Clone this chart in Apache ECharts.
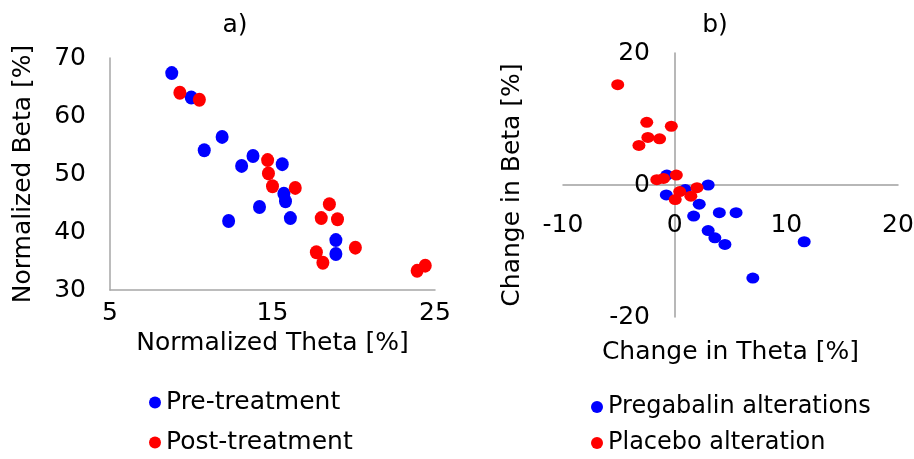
<!DOCTYPE html>
<html>
<head>
<meta charset="utf-8">
<script src="https://cdn.jsdelivr.net/npm/echarts@6/dist/echarts.min.js"></script>
<style>
  html, body { margin: 0; padding: 0; background: #fff; }
  #chart { width: 914px; height: 459px; }
</style>
</head>
<body>
<div id="chart"></div>
<script>
// a) normalized values [theta, beta]
var preTreatment = [
  [8.8, 67.4], [10.0, 63.2], [11.9, 56.4], [10.8, 54.1], [13.8, 53.1],
  [13.1, 51.4], [15.6, 51.7], [15.7, 46.6], [15.8, 45.3], [14.2, 44.3],
  [16.1, 42.4], [12.3, 41.9], [18.9, 38.6], [18.9, 36.2]
];
var postTreatment = [
  [9.3, 64.0], [10.5, 62.8], [14.7, 52.4], [14.75, 50.1], [15.0, 47.9],
  [16.4, 47.6], [18.5, 44.8], [18.0, 42.4], [19.0, 42.2], [20.1, 37.3],
  [17.7, 36.5], [18.1, 34.7], [23.9, 33.3], [24.4, 34.2]
];
// b) changes [theta, beta]
var pregabalinAlt = [
  [-0.7, 1.5], [-0.75, -1.5], [0.95, -0.7], [3.0, 0.0], [2.2, -2.9],
  [1.7, -4.7], [4.0, -4.2], [5.5, -4.2], [3.0, -6.9], [3.6, -8.0],
  [4.5, -9.0], [11.6, -8.6], [7.0, -14.1]
];
var placeboAlt = [
  [-5.1, 15.2], [-2.5, 9.5], [-0.3, 8.9], [-2.4, 7.2], [-1.35, 7.0],
  [-3.2, 6.0], [-1.6, 0.8], [-1.0, 1.0], [0.15, 1.5], [0.45, -1.0],
  [2.0, -0.4], [1.45, -1.7], [0.05, -2.2]
];

var FONT = 'DejaVu Sans';
var chartDom = document.getElementById('chart');
var myChart = echarts.init(chartDom);
var option;

function legendItem(name, left, top, size) {
  return {
    data: [name], left: left, top: top, padding: 0,
    itemWidth: 12, itemHeight: 12, icon: 'circle',
    textStyle: { fontFamily: FONT, fontSize: size, color: '#000' }
  };
}

option = {
  animation: false,
  textStyle: { fontFamily: FONT, color: '#000' },
  title: [
    { text: 'a)', left: 230, top: 8, textAlign: 'center',
      textStyle: { fontFamily: FONT, fontSize: 25, fontWeight: 'normal', color: '#000' } },
    { text: 'b)', left: 710, top: 8, textAlign: 'center',
      textStyle: { fontFamily: FONT, fontSize: 25, fontWeight: 'normal', color: '#000' } }
  ],
  legend: [
    legendItem('Pre-treatment', 149, 390, 25),
    legendItem('Post-treatment', 149, 430, 25),
    legendItem('Pregabalin alterations', 591, 395, 24),
    legendItem('Placebo alteration', 591, 431, 24)
  ],
  grid: [
    { left: 110, top: 58, width: 325, height: 232, outerBoundsMode: 'none' },
    { left: 563, top: 53, width: 335, height: 264, outerBoundsMode: 'none' }
  ],
  xAxis: [
    {
      gridIndex: 0, type: 'value', min: 5, max: 25, interval: 10,
      name: 'Normalized Theta [%]', nameLocation: 'middle', nameGap: 41,
      nameTextStyle: { fontFamily: FONT, fontSize: 25, color: '#000' },
      axisLine: { onZero: false, lineStyle: { color: '#a6a6a6', width: 1.5 } },
      axisTick: { show: false },
      splitLine: { show: false },
      axisLabel: { fontFamily: FONT, fontSize: 25, color: '#000', margin: 11 }
    },
    {
      gridIndex: 1, type: 'value', min: -10, max: 20, interval: 10,
      offset: -132,
      name: 'Change in Theta [%]', nameLocation: 'middle', nameGap: 155,
      nameTextStyle: { fontFamily: FONT, fontSize: 25, color: '#000' },
      axisLine: { onZero: false, lineStyle: { color: '#a0a0a0', width: 1.5 } },
      axisTick: { show: false },
      splitLine: { show: false },
      axisLabel: { fontFamily: FONT, fontSize: 25, color: '#000', margin: 28 }
    }
  ],
  yAxis: [
    {
      gridIndex: 0, type: 'value', min: 30, max: 70, interval: 10,
      name: 'Normalized Beta [%]', nameLocation: 'middle', nameGap: 74,
      nameTextStyle: { fontFamily: FONT, fontSize: 25, color: '#000' },
      axisLine: { show: true, onZero: false, lineStyle: { color: '#a6a6a6', width: 1.5 } },
      axisTick: { show: false },
      splitLine: { show: false },
      axisLabel: { fontFamily: FONT, fontSize: 25, color: '#000', margin: 24 }
    },
    {
      gridIndex: 1, type: 'value', min: -20, max: 20, interval: 20,
      offset: -112,
      name: 'Change in Beta [%]', nameLocation: 'middle', nameGap: 150,
      nameTextStyle: { fontFamily: FONT, fontSize: 25, color: '#000' },
      axisLine: { show: true, onZero: false, lineStyle: { color: '#a0a0a0', width: 1.5 } },
      axisTick: { show: false },
      splitLine: { show: false },
      axisLabel: { fontFamily: FONT, fontSize: 25, color: '#000', margin: 25 }
    }
  ],
  series: [
    {
      name: 'Pre-treatment', type: 'scatter', xAxisIndex: 0, yAxisIndex: 0,
      symbolSize: [13, 14], itemStyle: { color: '#0000ff', opacity: 1 },
      data: preTreatment
    },
    {
      name: 'Post-treatment', type: 'scatter', xAxisIndex: 0, yAxisIndex: 0,
      symbolSize: [13, 14], itemStyle: { color: '#ff0000', opacity: 1 },
      data: postTreatment
    },
    {
      name: 'Pregabalin alterations', type: 'scatter', xAxisIndex: 1, yAxisIndex: 1,
      symbolSize: [13, 11], itemStyle: { color: '#0000ff', opacity: 1 },
      data: pregabalinAlt
    },
    {
      name: 'Placebo alteration', type: 'scatter', xAxisIndex: 1, yAxisIndex: 1,
      symbolSize: [13, 11], itemStyle: { color: '#ff0000', opacity: 1 },
      data: placeboAlt
    }
  ]
};

option && myChart.setOption(option);
</script>
</body>
</html>
